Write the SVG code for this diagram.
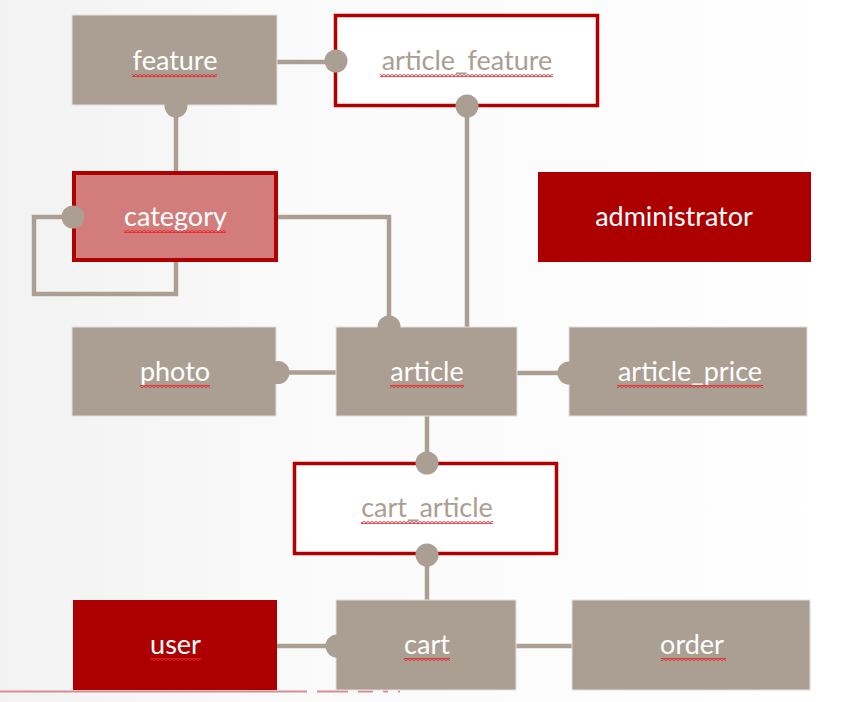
<svg xmlns="http://www.w3.org/2000/svg" width="868" height="702" viewBox="0 0 868 702">
<defs>
<linearGradient id="bg" x1="0" y1="0" x2="1" y2="0">
<stop offset="0" stop-color="#f2f2f2"/>
<stop offset="0.35" stop-color="#fafafa"/>
<stop offset="1" stop-color="#ffffff"/>
</linearGradient>
<pattern id="sq" width="4" height="3" patternUnits="userSpaceOnUse">
<path d="M0 2.5 L2 0.5 L4 2.5" fill="none" stroke="#f01c22" stroke-width="1.1"/>
</pattern>
<style>
.ent{fill:#ab9e93;stroke:#e4dfdb;stroke-width:1}
.red{fill:#ac0000}
.lnk{fill:#ffffff;stroke:#b00000;stroke-width:3.5}
.cat{fill:#d27c7c;stroke:#b00000;stroke-width:4}
.t{font-family:Lato,"Open Sans","Liberation Sans",sans-serif;font-size:27px;fill:#ffffff;text-anchor:middle}
.tg{fill:#ab9e93}
.sq{fill:url(#sq)}
.c{fill:none;stroke:#ab9e93;stroke-width:4.5}
.d{fill:#ab9e93}
</style>
</defs>
<rect x="0" y="0" width="868" height="702" fill="url(#bg)"/>
<g id="bottom-line" fill="none" stroke="#d98b93" stroke-width="2">
<path d="M0 691.5 H307 M317 691.5 H348 M358 691.5 H373 M383 691.5 H388 M398 691.5 H400"/>
</g>
<g id="connectors">
<path class="c" d="M277 62 H336"/>
<path class="c" d="M176 105 V171"/>
<path class="c" d="M467 106 V327"/>
<path class="c" d="M74 217 H34 V294 H176 V262"/>
<path class="c" d="M278 217 H389 V327"/>
<path class="c" d="M276 372.5 H336"/>
<path class="c" d="M517 373 H569"/>
<path class="c" d="M427 416 V463"/>
<path class="c" d="M427 554 V600"/>
<path class="c" d="M277 646 H336"/>
<path class="c" d="M516 646 H572"/>
</g>
<g id="feature">
<rect class="ent" x="72" y="15" width="205" height="90"/>
<text class="t" x="175" y="70">feature</text>
<rect class="sq" x="132" y="74" width="85" height="3"/>
</g>
<g id="article_feature">
<rect class="lnk" x="335.5" y="15.5" width="262" height="90"/>
<text class="t tg" x="467" y="70">article_feature</text>
<rect class="sq" x="380" y="74" width="173" height="3"/>
</g>
<g id="category">
<rect class="cat" x="74" y="173" width="202" height="87"/>
<text class="t" x="175.5" y="226">category</text>
<rect class="sq" x="124" y="230" width="102" height="3"/>
</g>
<g id="administrator">
<rect class="red" x="538" y="172" width="273" height="90"/>
<text class="t" x="674" y="226">administrator</text>
</g>
<g id="photo">
<rect class="ent" x="72" y="327" width="204" height="89"/>
<text class="t" x="175" y="381">photo</text>
<rect class="sq" x="140" y="385" width="70" height="3"/>
</g>
<g id="article">
<rect class="ent" x="336" y="327" width="181" height="89"/>
<text class="t" x="427" y="381">article</text>
<rect class="sq" x="390" y="385" width="74" height="3"/>
</g>
<g id="article_price">
<rect class="ent" x="569" y="327" width="238" height="89"/>
<text class="t" x="690" y="381">article_price</text>
<rect class="sq" x="617" y="385" width="146" height="3"/>
</g>
<g id="cart_article">
<rect class="lnk" x="294.5" y="463.5" width="262" height="90"/>
<text class="t tg" x="427" y="517">cart_article</text>
<rect class="sq" x="361" y="521" width="132" height="3"/>
</g>
<g id="user">
<rect class="red" x="73" y="600" width="204" height="90"/>
<text class="t" x="175.5" y="654">user</text>
<rect class="sq" x="150" y="658" width="51" height="3"/>
</g>
<g id="cart">
<rect class="ent" x="336" y="600" width="180" height="90"/>
<text class="t" x="427" y="654">cart</text>
<rect class="sq" x="404" y="658" width="46" height="3"/>
</g>
<g id="order">
<rect class="ent" x="572" y="600" width="238" height="90"/>
<text class="t" x="692" y="654">order</text>
<rect class="sq" x="661" y="658" width="65" height="3"/>
</g>
<g id="dots">
<circle class="d" cx="336" cy="61" r="11.5"/>
<circle class="d" cx="176" cy="106" r="11.5"/>
<circle class="d" cx="467" cy="106" r="11.5"/>
<circle class="d" cx="73" cy="217" r="11.5"/>
<circle class="d" cx="389" cy="327" r="11.5"/>
<circle class="d" cx="278" cy="372.5" r="11.5"/>
<circle class="d" cx="569" cy="373" r="11.5"/>
<circle class="d" cx="427" cy="463" r="11.5"/>
<circle class="d" cx="427" cy="555" r="11.5"/>
<circle class="d" cx="337" cy="646" r="11.5"/>
</g>
</svg>
